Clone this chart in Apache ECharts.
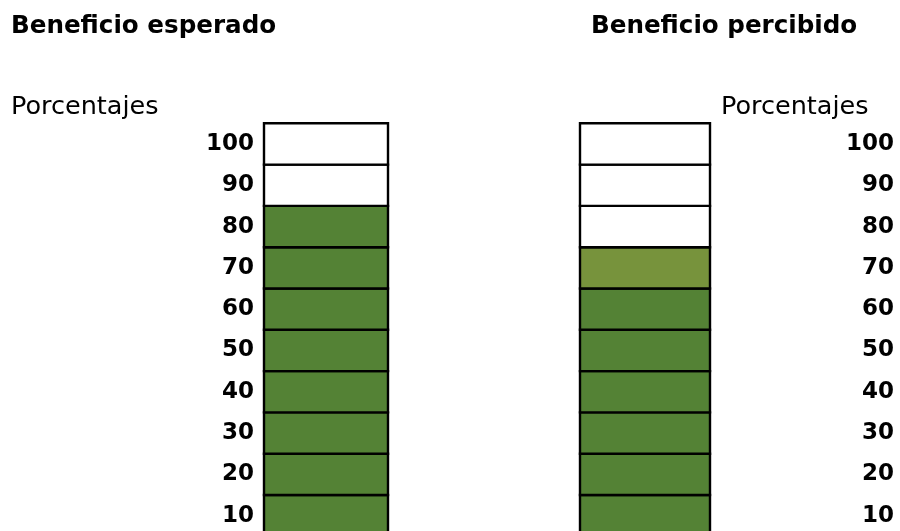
<!DOCTYPE html>
<html>
<head>
<meta charset="utf-8">
<script src="https://cdn.jsdelivr.net/npm/echarts@6/dist/echarts.min.js"></script>
<style>
html,body{margin:0;padding:0;background:#fff;}
#main{width:900px;height:531px;}
</style>
</head>
<body>
<div id="main"></div>
<script>
// ---- data ----
const panelTitles = ['Beneficio esperado', 'Beneficio percibido'];
const axisName = 'Porcentajes';
const levels = ['10', '20', '30', '40', '50', '60', '70', '80', '90', '100'];
const cellSize = 10;
// 1 = filled, 0.5 = partially reached (lighter shade), 0 = empty
const expectedStatus = [1, 1, 1, 1, 1, 1, 1, 1, 0, 0];
const perceivedStatus = [1, 1, 1, 1, 1, 1, 0.5, 0, 0, 0];

const colorFor = s => s === 1 ? '#548235' : (s === 0.5 ? '#77933c' : '#ffffff');

const FONT = 'DejaVu Sans';
const chart = echarts.init(document.getElementById('main'), null, {renderer: 'canvas'});

function cellData(status) {
  // [category index, cell start, cell end, status]
  return levels.map((lv, i) => [0, i * cellSize, (i + 1) * cellSize, status[i]]);
}

function renderCell(params, api) {
  const start = api.coord([api.value(0), api.value(1)]);
  const end = api.coord([api.value(0), api.value(2)]);
  const cs = params.coordSys;
  return {
    type: 'rect',
    shape: {x: cs.x, y: end[1], width: cs.width, height: start[1] - end[1]},
    style: {fill: colorFor(api.value(3)), stroke: '#000', lineWidth: 2.4}
  };
}

function buildSeries(status, gi) {
  return {
    type: 'custom',
    name: panelTitles[gi],
    xAxisIndex: gi,
    yAxisIndex: gi * 2,
    silent: true,
    renderItem: renderCell,
    encode: {x: 0, y: [1, 2]},
    data: cellData(status)
  };
}

const labelStyle = {fontFamily: FONT, fontWeight: 'bold', fontSize: 23, color: '#000'};

const option = {
  animation: false,
  backgroundColor: '#fff',
  grid: [
    {left: 264, top: 123.3, width: 124, height: 413, containLabel: false, outerBoundsMode: 'none'},
    {left: 580, top: 123.3, width: 130, height: 413, containLabel: false, outerBoundsMode: 'none'}
  ],
  xAxis: [
    {type: 'category', gridIndex: 0, data: [panelTitles[0]], show: false},
    {type: 'category', gridIndex: 1, data: [panelTitles[1]], show: false}
  ],
  yAxis: [
    {type: 'value', gridIndex: 0, min: 0, max: 100, interval: 10, show: false},
    {type: 'category', gridIndex: 0, data: levels, position: 'left',
      axisLine: {show: false}, axisTick: {show: false}, splitLine: {show: false},
      axisLabel: Object.assign({margin: 10}, labelStyle)},
    {type: 'value', gridIndex: 1, min: 0, max: 100, interval: 10, show: false},
    {type: 'category', gridIndex: 1, data: levels, position: 'right',
      axisLine: {show: false}, axisTick: {show: false}, splitLine: {show: false},
      axisLabel: Object.assign({margin: 184, align: 'right'}, labelStyle)}
  ],
  series: [buildSeries(expectedStatus, 0), buildSeries(perceivedStatus, 1)],
  graphic: [
    {type: 'text', left: 11, top: 14, style: {text: panelTitles[0], font: 'bold 24.6px "DejaVu Sans"', fill: '#000'}},
    {type: 'text', left: 591, top: 14, style: {text: panelTitles[1], font: 'bold 24.6px "DejaVu Sans"', fill: '#000'}},
    {type: 'text', left: 11, top: 94, style: {text: axisName, font: '25.5px "DejaVu Sans"', fill: '#000'}},
    {type: 'text', left: 721, top: 94, style: {text: axisName, font: '25.5px "DejaVu Sans"', fill: '#000'}}
  ]
};
chart.setOption(option);
</script>
</body>
</html>
